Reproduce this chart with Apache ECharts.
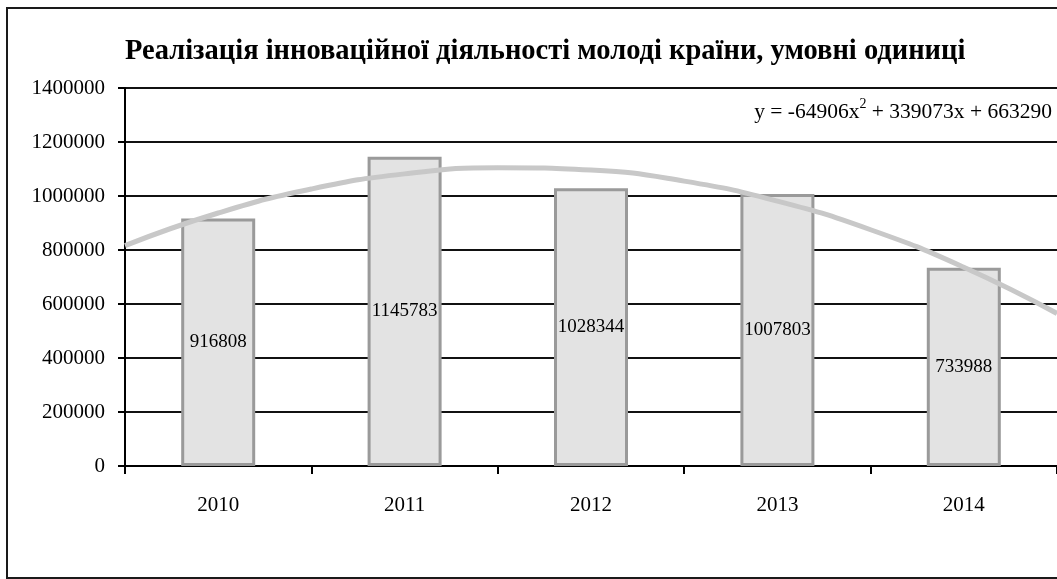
<!DOCTYPE html>
<html>
<head>
<meta charset="utf-8">
<script src="https://cdn.jsdelivr.net/npm/echarts@6/dist/echarts.min.js"></script>
<style>
html,body{margin:0;padding:0;background:#fff;}
#chart{width:1057px;height:579px;}
</style>
</head>
<body>
<div id="chart"></div>
<script>
const titleText = 'Реалізація інноваційної діяльності молоді країни, умовні одиниці';
const categories = ['2010', '2011', '2012', '2013', '2014'];
const values = [916808, 1145783, 1028344, 1007803, 733988];
const yTicks = [0, 200000, 400000, 600000, 800000, 1000000, 1200000, 1400000];
// trend line points (x in category units, 1 = 2010)
const trendX = [0.5, 1, 1.5, 2, 2.5, 3, 3.5, 4, 4.5, 5, 5.5];
const trendY = [816000, 937000, 1026000, 1082000, 1105000, 1096000, 1055000, 981000, 875000, 736000, 565000];
const equation = ['y = -64906x', '2', ' + 339073x + 663290'];

const chart = echarts.init(document.getElementById('chart'), null, {renderer: 'canvas'});
const serif = '"Liberation Serif", "DejaVu Serif", serif';

chart.setOption({
  animation: false,
  backgroundColor: '#fff',
  title: {
    text: titleText,
    left: 120, top: 32,
    textStyle: {fontFamily: serif, fontWeight: 'bold', fontSize: 28.5, color: '#000'}
  },
  grid: {left: 125, top: 88, right: -3, bottom: 113, containLabel: false},
  xAxis: [{
    type: 'category',
    data: categories,
    axisLine: {lineStyle: {color: '#000', width: 2}},
    axisTick: {show: true, length: 8, inside: false, lineStyle: {color: '#000', width: 2}},
    axisLabel: {margin: 29, fontFamily: serif, fontSize: 21, color: '#000'},
    splitLine: {show: false}
  }, {
    type: 'value',
    min: 0.5, max: 5.5,
    show: false
  }],
  yAxis: {
    type: 'value',
    min: yTicks[0], max: yTicks[yTicks.length - 1], interval: 200000,
    axisLine: {show: true, lineStyle: {color: '#000', width: 2}},
    axisTick: {show: true, length: 7, lineStyle: {color: '#000', width: 2}},
    axisLabel: {margin: 20, fontFamily: serif, fontSize: 21, color: '#000', formatter: v => String(v)},
    splitLine: {show: true, lineStyle: {color: '#111', width: 2}}
  },
  series: [{
    type: 'bar',
    data: values,
    xAxisIndex: 0,
    barWidth: 74,
    itemStyle: {color: '#e3e3e3', borderColor: '#9a9a9a', borderWidth: 3},
    label: {
      show: true, position: 'inside',
      fontFamily: serif, fontSize: 19, color: '#000',
      formatter: p => String(p.value)
    },
    z: 3
  }, {
    type: 'line',
    xAxisIndex: 1,
    data: trendX.map((x, i) => [x, trendY[i]]),
    smooth: true,
    symbol: 'none',
    lineStyle: {color: '#c8c8c8', width: 5},
    z: 4
  }],
  graphic: [{
    type: 'rect',
    shape: {x: 7, y: 8, width: 1070, height: 570},
    style: {fill: 'none', stroke: '#1a1a1a', lineWidth: 2},
    silent: true
  }, {
    type: 'text',
    right: 5, top: 97,
    style: {
      text: '{a|' + equation[0] + '}{s|' + equation[1] + '}{a|' + equation[2] + '}',
      rich: {
        a: {fontFamily: serif, fontSize: 21.5, fill: '#000', verticalAlign: 'bottom'},
        s: {fontFamily: serif, fontSize: 14, fill: '#000', verticalAlign: 'top', padding: [0, 0, 12, 0]}
      },
      backgroundColor: '#fff'
    },
    z: 10
  }]
});
</script>
</body>
</html>
